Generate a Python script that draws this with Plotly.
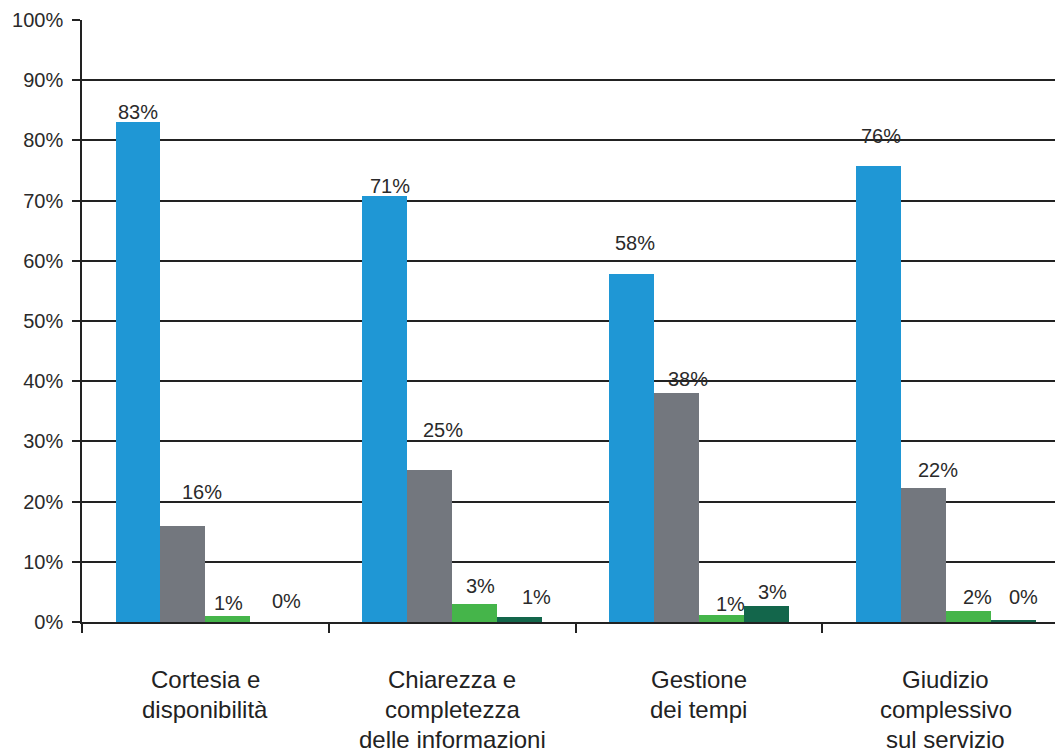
import plotly.graph_objects as go

categories = ["Cortesia e<br>disponibilità",
              "Chiarezza e<br>completezza<br>delle informazioni",
              "Gestione<br>dei tempi",
              "Giudizio<br>complessivo<br>sul servizio"]
series_names = ["Serie 1", "Serie 2", "Serie 3", "Serie 4"]
s1 = [83.0, 70.8, 57.8, 75.7]
s2 = [16.0, 25.2, 38.0, 22.3]
s3 = [1.0, 3.0, 1.2, 1.8]
s4 = [0.0, 0.9, 2.7, 0.4]
y_ticks = [0, 10, 20, 30, 40, 50, 60, 70, 80, 90, 100]
y_tick_labels = [f"{v}%" for v in y_ticks]

series = [s1, s2, s3, s4]
colors = ["#1f97d5", "#73777e", "#45b54a", "#13664b"]

# label offsets (pixels) for the value labels: (xshift, yshift)
label_shift = [
    [(0, 10), (19, 34), (1, 13), (14, 21)],
    [(5, 10), (13, 40), (6, 18), (17, 20)],
    [(3, 31), (11, 14), (9, 11), (6, 14)],
    [(3, 30), (15, 18), (9, 14), (10, 23)],
]

bar_w = 0.182
xs = list(range(len(categories)))
FONT = "Liberation Sans, Arial, Helvetica"

fig = go.Figure()
annotations = []
for j, (vals, col, name) in enumerate(zip(series, colors, series_names)):
    off = (j - 1.5) * bar_w
    fig.add_trace(go.Bar(
        x=[x + off for x in xs], y=vals, width=bar_w, name=name,
        marker=dict(color=col, line=dict(width=0)), showlegend=False,
    ))
    for i, v in enumerate(vals):
        dx, dy = label_shift[i][j]
        annotations.append(dict(
            x=xs[i] + off, y=v, xref="x", yref="y", text=f"{round(v):d}%",
            showarrow=False, xshift=dx, yshift=dy, yanchor="middle",
            font=dict(family=FONT, size=20, color="#2a2a2a"),
        ))

LINE_STEP = 30
for i, c in enumerate(categories):
    for k, line in enumerate(c.split("<br>")):
        annotations.append(dict(
            x=xs[i], y=0, xref="x", yref="paper", text=line, showarrow=False,
            yanchor="middle", yshift=-57 - k * LINE_STEP,
            font=dict(family=FONT, size=24, color="#222222"),
        ))

# the page body adds an 8px margin, so the figure is sized to fit the window
fig.update_layout(
    width=1055, height=747,
    margin=dict(l=74, r=0, t=12, b=133),
    plot_bgcolor="white", paper_bgcolor="white",
    annotations=annotations,
    bargap=0,
)
fig.update_xaxes(
    range=[-0.5, 3.475],
    tickvals=[-0.5, 0.5, 1.5, 2.5], ticktext=["", "", "", ""],
    ticks="outside", ticklen=9, tickwidth=1.5, tickcolor="#222",
    showgrid=False, showline=True, linecolor="#222", linewidth=1.5,
    zeroline=False,
)
fig.update_yaxes(
    range=[0, 100], tickvals=y_ticks, ticktext=y_tick_labels,
    ticks="outside", ticklen=8, tickwidth=1.5, tickcolor="#222",
    ticklabelstandoff=5,
    showgrid=True, gridcolor="#222", gridwidth=1.5,
    showline=True, linecolor="#222", linewidth=1.5, zeroline=False,
    tickfont=dict(family=FONT, size=20, color="#2a2a2a"),
)
fig.write_html("out.html")
